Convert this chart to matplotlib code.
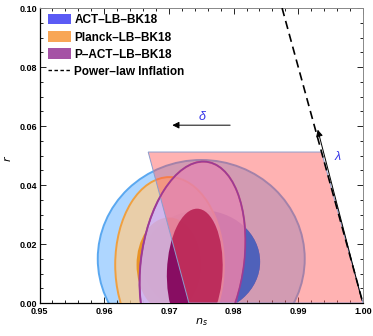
import matplotlib
matplotlib.use('Agg')
import numpy as np
import matplotlib.pyplot as plt
from matplotlib.patches import Ellipse, Polygon, Patch
from matplotlib.lines import Line2D
from matplotlib.path import Path
from matplotlib.ticker import MultipleLocator

plt.rcParams['font.family'] = ['Liberation Sans', 'DejaVu Sans']

# data sets and their 95% / 68% regions (centre, half width, half height, tilt in deg)
labels = ['ACT–LB–BK18', 'Planck–LB–BK18', 'P–ACT–LB–BK18']
legend_colors = ['#5b5bf5', '#f8a656', '#a552a5']

ns_c95 = [0.9750, 0.9701, 0.97365]
r_c95 = [0.0150, 0.0130, 0.0140]
ns_hw95 = [0.0160, 0.0084, 0.0080]
r_hh95 = [0.0335, 0.0297, 0.0340]
tilt95 = [0, 0, -3]

ns_c68 = [0.9750, 0.9700, 0.9740]
r_c68 = [0.0140, 0.0130, 0.0110]
ns_hw68 = [0.0091, 0.0050, 0.0043]
r_hh68 = [0.0175, 0.0160, 0.0210]
tilt68 = [0, 0, -1]

# power-law inflation line and the shaded region
powerlaw_ns = [0.9875, 1.0]
powerlaw_r = [0.10, 0.0]
region_ns = [0.9668, 0.9936, 1.0, 0.9731]
region_r = [0.0512, 0.0512, 0.0, 0.0]

# arrows: delta (horizontal) and lambda (along the power-law line)
delta_start = (0.9799, 0.0603)
delta_end = (0.9701, 0.0603)
delta_text = (0.9751, 0.0632)
lam_start = (0.99995, 0.0)
lam_end = (0.9929, 0.0597)
lam_text = (0.9961, 0.0495)

fill95 = [((0.30, 0.65, 1.00), 0.45), ((1.00, 0.80, 0.545), 0.74), ((0.80, 0.69, 1.00), 0.80)]
edge95 = ['#5aa8f0', '#f0a040', '#a8409c']
fill68 = [((0.22, 0.33, 0.80), 0.95), ((0.91, 0.565, 0.12), 0.95), ((0.51, 0.0, 0.35), 0.92)]

fig = plt.figure(figsize=(3.73, 3.36), dpi=100)
ax = fig.add_axes([0.106, 0.098, 0.867, 0.878])


def ellipse(i, c, w, h, t, **kw):
    return Ellipse((c[0][i], c[1][i]), 2 * w[i], 2 * h[i], angle=t[i], **kw)


z = 1
for i in range(3):
    e = ellipse(i, (ns_c95, r_c95), ns_hw95, r_hh95, tilt95, edgecolor='none', zorder=z)
    e.set_facecolor((*fill95[i][0], fill95[i][1]))
    ax.add_patch(e)
    ax.add_patch(ellipse(i, (ns_c95, r_c95), ns_hw95, r_hh95, tilt95,
                         facecolor='none', edgecolor=edge95[i], lw=1.4, zorder=z + 1))
    e = ellipse(i, (ns_c68, r_c68), ns_hw68, r_hh68, tilt68, edgecolor='none', zorder=z + 2)
    e.set_facecolor((*fill68[i][0], fill68[i][1]))
    ax.add_patch(e)
    z += 3

ax.add_patch(Polygon(list(zip(region_ns, region_r)), closed=True,
                     facecolor=(1.0, 0.33, 0.33, 0.45), edgecolor='#8c9ccc', lw=0.7, zorder=20))

# ACT 68% region shows on top of the shaded band where P-ACT 95% does not cover it
pact = ellipse(2, (ns_c95, r_c95), ns_hw95, r_hh95, tilt95)
hole = pact.get_patch_transform().transform_path(pact.get_path()).to_polygons()[0][::-1]
box = np.array([[0.9, -0.1], [1.1, -0.1], [1.1, 0.2], [0.9, 0.2], [0.9, -0.1]])
clip = Path(np.vstack([box, hole]),
            [Path.MOVETO] + [Path.LINETO] * 3 + [Path.CLOSEPOLY] +
            [Path.MOVETO] + [Path.LINETO] * (len(hole) - 2) + [Path.CLOSEPOLY])
act68 = ellipse(0, (ns_c68, r_c68), ns_hw68, r_hh68, tilt68, edgecolor='none', zorder=20.5)
act68.set_facecolor((0.31, 0.38, 0.73, 1.0))
ax.add_patch(act68)
act68.set_clip_path(clip, ax.transData)
edge = ellipse(2, (ns_c95, r_c95), ns_hw95, r_hh95, tilt95, facecolor='none',
               edgecolor='#9a3c96', lw=1.1, zorder=20.6)
ax.add_patch(edge)

ax.plot(powerlaw_ns, powerlaw_r, color='black', lw=1.2, dashes=(5, 3), zorder=21)

ax.annotate('', xy=delta_end, xytext=delta_start,
            arrowprops=dict(arrowstyle='-|>', color='black', lw=0.7, mutation_scale=10), zorder=22)
ax.annotate('', xy=lam_end, xytext=lam_start,
            arrowprops=dict(arrowstyle='-|>', color='black', lw=0.7, mutation_scale=10), zorder=22)
ax.text(*delta_text, 'δ', color='#3535e8', fontsize=9, style='italic', ha='center', va='center', zorder=23)
ax.text(*lam_text, 'λ', color='#3535e8', fontsize=9, style='italic', ha='center', va='center', zorder=23)

ax.set_xlim(0.95, 1.0)
ax.set_ylim(0.0, 0.10)
ax.xaxis.set_major_locator(MultipleLocator(0.01))
ax.xaxis.set_minor_locator(MultipleLocator(0.002))
ax.yaxis.set_major_locator(MultipleLocator(0.02))
ax.yaxis.set_minor_locator(MultipleLocator(0.005))
ax.xaxis.set_major_formatter(plt.FuncFormatter(lambda v, p: f'{v:.2f}'))
ax.yaxis.set_major_formatter(plt.FuncFormatter(lambda v, p: f'{v:.2f}'))
ax.tick_params(which='both', direction='in', top=True, right=True, width=0.6,
               labelsize=6.5, pad=2)
ax.tick_params(axis='x', which='major', pad=3)
ax.tick_params(which='major', length=4)
ax.tick_params(which='minor', length=2)
for lab in ax.get_xticklabels() + ax.get_yticklabels():
    lab.set_fontweight('bold')
for s in ['left', 'bottom']:
    ax.spines[s].set_linewidth(0.9)
for s in ['top', 'right']:
    ax.spines[s].set_color('#888888')
    ax.spines[s].set_linewidth(0.7)

ax.set_xlabel('$n_s$', fontsize=8, labelpad=0)
ax.set_ylabel('$r$', fontsize=8)
ax.yaxis.set_label_coords(-0.083, 0.49)

handles = [Patch(facecolor=c, edgecolor='none') for c in legend_colors]
handles.append(Line2D([0], [0], color='black', lw=1.0, dashes=(2.5, 1.8)))
leg = ax.legend(handles, labels + ['Power–law Inflation'], loc='upper left',
                bbox_to_anchor=(0.027, 0.979), frameon=False, borderpad=0, borderaxespad=0,
                handlelength=1.9, handleheight=0.95, handletextpad=0.3, labelspacing=0.42,
                prop={'size': 8.5, 'weight': 'bold'})
leg.set_zorder(30)

fig.savefig('out.png', dpi=100)
